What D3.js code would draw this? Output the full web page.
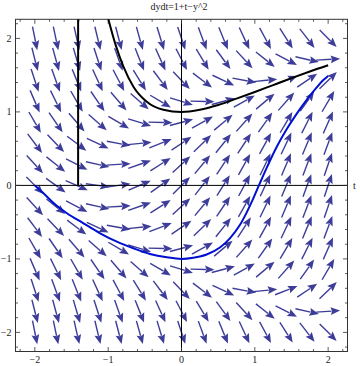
<!DOCTYPE html>
<html>
<head>
<meta charset="utf-8">
<script src="https://cdn.jsdelivr.net/npm/d3@7"></script>
<style>
  body { margin: 0; background: #fff; }
  text { font-family: "Liberation Serif", "DejaVu Serif", serif; font-size: 10px; fill: #222; }
</style>
</head>
<body>
<svg id="chart"></svg>
<script>
var title = 'dydt=1+t\u2212y^2';
var axisLabel = 't';

// arrow grid of the direction field (15 x 15)
var gridT = [-2, -1.714, -1.429, -1.143, -0.857, -0.571, -0.286, 0, 0.286, 0.571, 0.857, 1.143, 1.429, 1.714, 2];
var gridY = [-2, -1.714, -1.429, -1.143, -0.857, -0.571, -0.286, 0, 0.286, 0.571, 0.857, 1.143, 1.429, 1.714, 2];

var tickLabels = [-2, -1, 0, 1, 2];

// solution curves, [t, y]
var blackCurve = [
  [-0.997, 2.26], [-0.905, 1.933], [-0.792, 1.615], [-0.656, 1.343], [-0.474, 1.139],
  [-0.248, 1.03], [0, 1.0], [0.25, 1.03], [0.5, 1.095], [0.75, 1.18],
  [1.0, 1.27], [1.25, 1.365], [1.5, 1.46], [1.75, 1.55], [2.0, 1.635]
];
var blackVertical = [[-1.41, 0], [-1.41, 2.26]];
var blueCurve = [
  [-2, 0], [-1.882, -0.107], [-1.745, -0.24], [-1.563, -0.379], [-1.337, -0.516],
  [-1.11, -0.652], [-0.882, -0.766], [-0.656, -0.856], [-0.429, -0.933], [-0.201, -0.978],
  [0, -1.0], [0.161, -0.984], [0.343, -0.94], [0.524, -0.845], [0.66, -0.72],
  [0.796, -0.54], [0.888, -0.37], [0.978, -0.18], [1.069, 0.03], [1.16, 0.235],
  [1.296, 0.52], [1.432, 0.76], [1.568, 0.97], [1.705, 1.16], [1.841, 1.33],
  [1.931, 1.43], [2.0, 1.49]
];

// the field named in the title
function dydt(t, y) {
  return 1 + t - y * y;
}

var width = 360, height = 366;
var svg = d3.select('#chart').attr('width', width).attr('height', height);

var x = d3.scaleLinear().domain([-2.264, 2.264]).range([15.5, 347.5]);
var y = d3.scaleLinear().domain([-2.26, 2.26]).range([351.5, 19.3]);

// arrows
var arrowLen = 24, headLen = 9.5, headHalf = 3.9;
var color = '#3d3d99';
var pts = [];
gridY.forEach(function(yv) {
  gridT.forEach(function(tv) {
    pts.push({t: tv, y: yv});
  });
});
var sx = x(1) - x(0), sy = y(0) - y(1);
var arrows = svg.append('g').attr('class', 'arrows');
pts.forEach(function(p) {
  var dx = sx, dy = -sy * dydt(p.t, p.y);
  var n = Math.sqrt(dx * dx + dy * dy);
  var ux = dx / n, uy = dy / n;
  var cx = x(p.t), cy = y(p.y);
  var x0 = cx - ux * arrowLen / 2, y0 = cy - uy * arrowLen / 2;
  var x1 = cx + ux * arrowLen / 2, y1 = cy + uy * arrowLen / 2;
  var bx = x1 - ux * headLen, by = y1 - uy * headLen;
  arrows.append('line')
    .attr('x1', x0).attr('y1', y0).attr('x2', bx + ux).attr('y2', by + uy)
    .attr('stroke', color).attr('stroke-width', 1.4);
  arrows.append('path')
    .attr('d', 'M' + x1 + ',' + y1 +
      'L' + (bx - uy * headHalf) + ',' + (by + ux * headHalf) +
      'L' + (bx + ux * 1.5) + ',' + (by + uy * 1.5) +
      'L' + (bx + uy * headHalf) + ',' + (by - ux * headHalf) + 'Z')
    .attr('fill', color);
});

// axes through the origin
svg.append('line').attr('x1', x.range()[0]).attr('x2', x.range()[1])
  .attr('y1', y(0)).attr('y2', y(0)).attr('stroke', '#000').attr('stroke-width', 1);
svg.append('line').attr('x1', x(0)).attr('x2', x(0))
  .attr('y1', y.range()[0]).attr('y2', y.range()[1]).attr('stroke', '#000').attr('stroke-width', 1);

// frame
svg.append('rect')
  .attr('x', x.range()[0]).attr('y', y.range()[1])
  .attr('width', x.range()[1] - x.range()[0]).attr('height', y.range()[0] - y.range()[1])
  .attr('fill', 'none').attr('stroke', '#333').attr('stroke-width', 1);

// frame ticks
var minor = d3.range(-11, 12).map(function(i) { return i / 5; });
var ticks = svg.append('g').attr('stroke', '#333').attr('stroke-width', 0.8);
minor.forEach(function(v) {
  var major = Math.abs(v - Math.round(v)) < 1e-6;
  var len = major ? 4.5 : 2.5;
  ticks.append('line').attr('x1', x(v)).attr('x2', x(v))
    .attr('y1', y.range()[0]).attr('y2', y.range()[0] - len);
  ticks.append('line').attr('x1', x(v)).attr('x2', x(v))
    .attr('y1', y.range()[1]).attr('y2', y.range()[1] + len);
  ticks.append('line').attr('y1', y(v)).attr('y2', y(v))
    .attr('x1', x.range()[0]).attr('x2', x.range()[0] + len);
  ticks.append('line').attr('y1', y(v)).attr('y2', y(v))
    .attr('x1', x.range()[1]).attr('x2', x.range()[1] - len);
});

function fmt(v) { return v < 0 ? '\u2212' + (-v) : String(v); }

svg.append('g').selectAll('text').data(tickLabels).enter().append('text')
  .attr('x', function(d) { return x(d); }).attr('y', 363)
  .attr('text-anchor', 'middle').text(fmt);
svg.append('g').selectAll('text').data(tickLabels).enter().append('text')
  .attr('x', 11.5).attr('y', function(d) { return y(d); }).attr('dy', '0.35em')
  .attr('text-anchor', 'end').text(fmt);

svg.append('text').attr('x', 179).attr('y', 9.5).attr('text-anchor', 'middle').text(title);
svg.append('text').attr('x', 353).attr('y', y(0)).attr('dy', '0.35em').text(axisLabel);

// solution curves
var line = d3.line().curve(d3.curveMonotoneX)
  .x(function(d) { return x(d[0]); }).y(function(d) { return y(d[1]); });
svg.append('path').datum(blackVertical).attr('d', d3.line()
    .x(function(d) { return x(d[0]); }).y(function(d) { return y(d[1]); }))
  .attr('fill', 'none').attr('stroke', '#000').attr('stroke-width', 2);
svg.append('path').datum(blackCurve).attr('d', line)
  .attr('fill', 'none').attr('stroke', '#000').attr('stroke-width', 2);
svg.append('path').datum(blueCurve).attr('d', line)
  .attr('fill', 'none').attr('stroke', '#0010d0').attr('stroke-width', 2);
</script>
</body>
</html>
